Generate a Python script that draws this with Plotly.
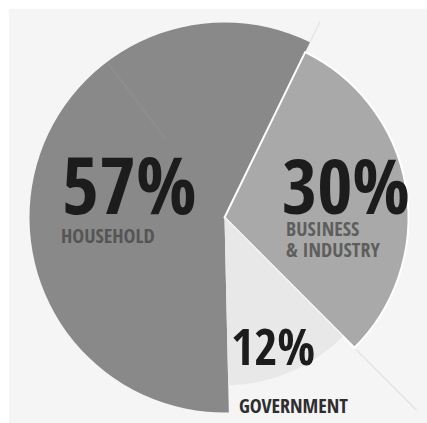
import math
import plotly.graph_objects as go

# Share of the total by sector, in clockwise order starting at the top-right cut
sectors = ["BUSINESS & INDUSTRY", "GOVERNMENT", "HOUSEHOLD"]
shares = [30, 12, 57]
label_lines = [["BUSINESS", "& INDUSTRY"], ["GOVERNMENT"], ["HOUSEHOLD"]]
fills = ["#a9a9a9", "#e8e8e8", "#898989"]

W, H = 427, 423
CX, CY = 224.5, 217.5          # pie centre in pixels (from top-left)
RADII = [184, 168, 195]        # each wedge has its own radius
ROTATION = 26
CLEAR = "rgba(0,0,0,0)"

fig = go.Figure()


def domain_for(r):
    return dict(
        x=[(CX - r) / W, (CX + r) / W],
        y=[(H - CY - r) / H, (H - CY + r) / H],
    )


# draw the biggest wedge first so the smaller ones sit on top
for i in sorted(range(len(shares)), key=lambda k: -RADII[k]):
    colors = [fills[k] if k == i else CLEAR for k in range(len(shares))]
    widths = [2 if (k == i and i == 0) else 0 for k in range(len(shares))]
    fig.add_trace(go.Pie(
        labels=sectors,
        values=shares,
        sort=False,
        direction="clockwise",
        rotation=ROTATION,
        textinfo="none",
        hoverinfo="skip",
        showlegend=False,
        marker=dict(colors=colors, line=dict(color="white", width=widths)),
        domain=domain_for(RADII[i]),
    ))

# boundary angles (clockwise from 12 o'clock) derived from the shares
total = sum(shares)
bounds = [ROTATION]
for v in shares:
    bounds.append(bounds[-1] + 360 * v / total)


def polar(angle_deg, r):
    a = math.radians(angle_deg)
    px = CX + r * math.sin(a)
    py = CY - r * math.cos(a)
    return px / W, (H - py) / H


shapes = [
    dict(type="rect", xref="paper", yref="paper", x0=9 / W, x1=1, y0=0, y1=(H - 9) / H,
         fillcolor="#f5f5f5", line=dict(width=0), layer="below"),
]
# faint guide lines continuing the cuts beyond the rim
for ang, r0, r1 in [(bounds[0], 195, 218), (bounds[1], 186, 272)]:
    x0, y0 = polar(ang, r0)
    x1, y1 = polar(ang, r1)
    shapes.append(dict(type="line", xref="paper", yref="paper", x0=x0, y0=y0, x1=x1, y1=y1,
                       line=dict(color="#e6e6e6", width=1.5), layer="above"))
# soft highlight line inside the household wedge
x0, y0 = polar(323, 98)
x1, y1 = polar(323, 193)
shapes.append(dict(type="line", xref="paper", yref="paper", x0=x0, y0=y0, x1=x1, y1=y1,
                   line=dict(color="#919191", width=1.2), layer="above"))

COND = "Open Sans Condensed, Open Sans, sans-serif"


def ann(text, x, y, size, color):
    return dict(
        text=text,
        x=x / W, y=(H - y) / H, xref="paper", yref="paper",
        xanchor="left", yanchor="middle", showarrow=False,
        font=dict(family=COND, size=size, color=color, weight=700),
    )


annotations = [
    # household
    ann(f"{shares[2]}%", 60, 183, 80, "#1c1c1c"),
    ann(label_lines[2][0], 59, 235, 20, "#555555"),
    # business & industry
    ann(f"{shares[0]}%", 280, 185, 76, "#1c1c1c"),
    ann(label_lines[0][0], 284, 228, 20, "#5e5e5e"),
    ann(label_lines[0][1], 284, 250, 20, "#5e5e5e"),
    # government
    ann(f"{shares[1]}%", 229, 346, 50, "#1c1c1c"),
    ann(label_lines[1][0], 237, 405, 20, "#2e2e2e"),
]

fig.update_layout(
    width=W, height=H,
    margin=dict(l=0, r=0, t=0, b=0),
    paper_bgcolor="white",
    plot_bgcolor="white",
    shapes=shapes,
    annotations=annotations,
)

fig.write_html("out.html")
